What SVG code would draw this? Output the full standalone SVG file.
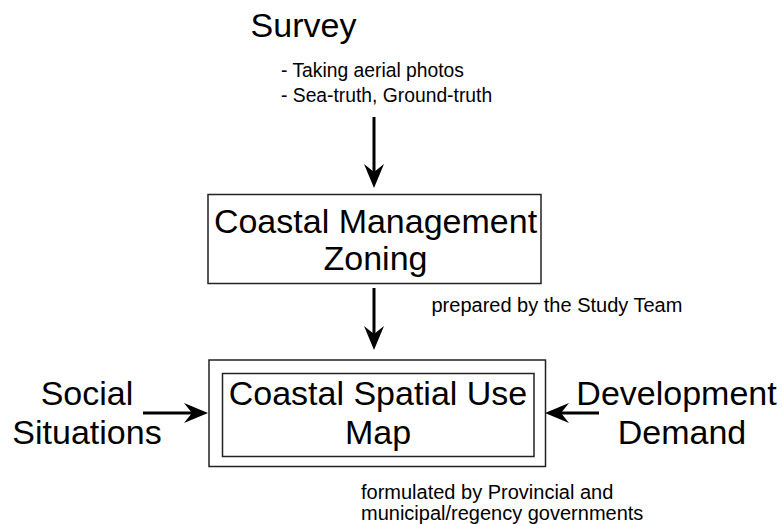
<svg xmlns="http://www.w3.org/2000/svg" width="782" height="524" viewBox="0 0 782 524">
<defs>
<marker id="ah" viewBox="0 0 24 20" refX="8" refY="10" markerWidth="24" markerHeight="20" markerUnits="userSpaceOnUse" orient="auto">
<path d="M0,0 L24,10 L0,20 L8,10 z" fill="#000"/>
</marker>
<style>
text{font-family:"Liberation Sans",Arial,sans-serif;fill:#000}
.big{font-size:34px}
.small{font-size:20px}
.bul{font-size:19.3px}
.box{fill:#fff;stroke:#222;stroke-width:1.5}
.conn line{stroke:#000;stroke-width:3;marker-end:url(#ah)}
</style>
</defs>
<rect width="782" height="524" fill="#fff"/>
<g id="survey">
<text class="big" x="303.5" y="37" text-anchor="middle">Survey</text>
<text class="bul" x="281" y="77">- Taking aerial photos</text>
<text class="bul" x="281" y="101.5">- Sea-truth, Ground-truth</text>
</g>
<g id="zoning">
<rect class="box" x="208" y="194.5" width="333" height="89"/>
<text class="big" x="375.5" y="233" text-anchor="middle">Coastal Management</text>
<text class="big" x="375.5" y="269.5" text-anchor="middle">Zoning</text>
</g>
<text id="prepared" class="small" x="431.5" y="312">prepared by the Study Team</text>
<g id="map">
<rect class="box" x="209" y="360" width="336.5" height="106.5"/>
<rect class="box" x="222.5" y="373.5" width="311.5" height="83"/>
<text class="big" x="378" y="405" text-anchor="middle">Coastal Spatial Use</text>
<text class="big" x="378" y="443.5" text-anchor="middle">Map</text>
</g>
<g id="social">
<text class="big" x="87" y="405" text-anchor="middle">Social</text>
<text class="big" x="87" y="443.5" text-anchor="middle">Situations</text>
</g>
<g id="development">
<text class="big" x="676.5" y="405" text-anchor="middle">Development</text>
<text class="big" x="682" y="443.5" text-anchor="middle">Demand</text>
</g>
<g id="formulated">
<text class="small" x="361" y="499">formulated by Provincial and</text>
<text class="small" x="361" y="520">municipal/regency governments</text>
</g>
<g id="connectors" class="conn">
<line x1="374" y1="117" x2="374" y2="172"/>
<line x1="374" y1="288" x2="374" y2="334"/>
<line x1="143" y1="413" x2="192" y2="413"/>
<line x1="599" y1="413" x2="561" y2="413"/>
</g>
</svg>
